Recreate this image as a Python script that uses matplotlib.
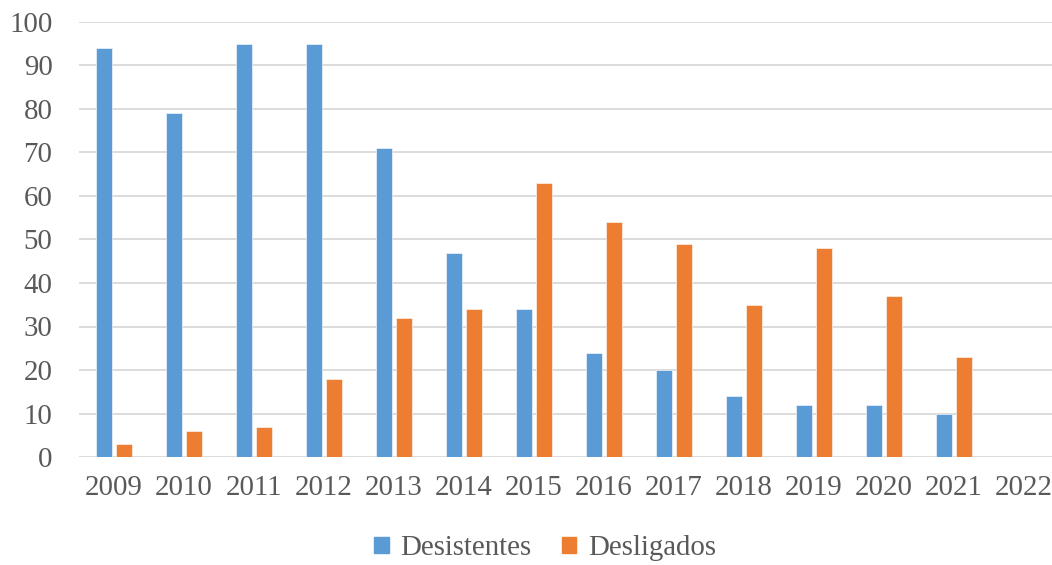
import numpy as np
import matplotlib
matplotlib.use("Agg")
import matplotlib.pyplot as plt
from matplotlib.patches import Patch

# données
annees = ['2009', '2010', '2011', '2012', '2013', '2014', '2015',
          '2016', '2017', '2018', '2019', '2020', '2021', '2022']
desistentes = [94, 79, 95, 95, 71, 47, 34, 24, 20, 14, 12, 12, 10, np.nan]
desligados = [3, 6, 7, 18, 32, 34, 63, 54, 49, 35, 48, 37, 23, np.nan]

bleu = '#5B9BD5'
orange = '#ED7D31'
gris = '#595959'

plt.rcParams['font.family'] = ['Liberation Serif', 'DejaVu Serif']

fig = plt.figure(figsize=(10.52, 5.65), dpi=100)
W, H = 1052, 565
# zone du graphique en pixels : x 79 -> 1059, y 22 -> 457
ax = fig.add_axes([79 / W, 1 - 457 / H, 980 / W, 435 / H])

x = np.arange(len(annees))
larg = 0.225
ax.bar(x - 0.143, desistentes, width=larg, color=bleu, edgecolor='white', linewidth=0.4, zorder=3)
ax.bar(x + 0.143, desligados, width=larg, color=orange, edgecolor='white', linewidth=0.4, zorder=3)

ax.set_xlim(-0.5, len(annees) - 0.5)
ax.set_ylim(0, 100)
ax.set_yticks(range(0, 101, 10))
ax.set_xticks(x)
ax.set_xticklabels(annees)

ax.grid(axis='y', color='#D9D9D9', linewidth=1.3, zorder=0)
ax.set_axisbelow(True)
for s in ax.spines.values():
    s.set_visible(False)
ax.tick_params(axis='both', length=0, labelsize=20.8, colors=gris)
ax.tick_params(axis='y', pad=19)
ax.tick_params(axis='x', pad=13)

poignees = [Patch(color=bleu), Patch(color=orange)]
fig.legend(poignees, ['Desistentes', 'Desligados'], loc='center',
           bbox_to_anchor=(545 / W, 1 - 548 / H), ncol=2, frameon=False,
           fontsize=20.8, labelcolor=gris, handlelength=0.5, handleheight=0.5,
           handletextpad=0.4, columnspacing=1.05)

fig.savefig('out.png', dpi=100)
